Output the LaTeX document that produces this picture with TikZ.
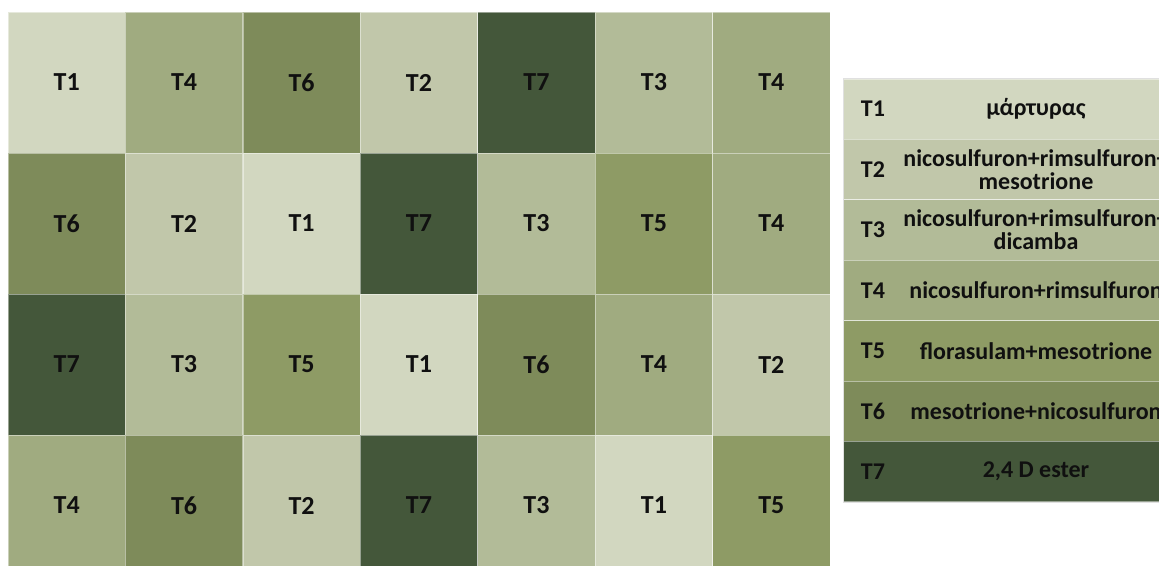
\documentclass[tikz,border=0pt]{standalone}
\usepackage{fontspec}
\setmainfont{Carlito}
\usepackage{xcolor}
\definecolor{tone}{HTML}{D2D7C0}
\definecolor{ttwo}{HTML}{C1C7AA}
\definecolor{tthree}{HTML}{B2BB98}
\definecolor{tfour}{HTML}{A0AB80}
\definecolor{tfive}{HTML}{8E9B65}
\definecolor{tsix}{HTML}{7E8B5A}
\definecolor{tseven}{HTML}{44573A}
\definecolor{ink}{HTML}{101010}

\begin{document}
\begin{tikzpicture}[x=1pt,y=-1pt,
    cell/.style={fill=#1, draw=white, draw opacity=0.45, line width=0.7pt,
      minimum width=117.4pt, minimum height=141pt, inner sep=0pt,
      text=ink, font=\bfseries\fontsize{26}{26}\selectfont},
    keyrow/.style={fill=#1, draw=white, draw opacity=0.45, line width=0.7pt,
      minimum width=360pt, minimum height=60.4pt, inner sep=0pt, anchor=west},
    keytag/.style={text=ink, font=\bfseries\fontsize{24}{24}\selectfont},
    keytext/.style={text=ink, align=center, inner sep=1pt, font=\bfseries\fontsize{24}{23}\selectfont}]
    \useasboundingbox (0,0) rectangle (1159,565);
    \clip (0,0) rectangle (1159,565);

    % field plots, row by row
    \node[cell=tone]   (p11) at (66.7,82.5)  {T1};
    \node[cell=tfour]  (p12) at (184.1,82.5) {T4};
    \node[cell=tsix]   (p13) at (301.6,82.5) {T6};
    \node[cell=ttwo]   (p14) at (419.0,82.5) {T2};
    \node[cell=tseven] (p15) at (536.4,82.5) {T7};
    \node[cell=tthree] (p16) at (653.9,82.5) {T3};
    \node[cell=tfour]  (p17) at (771.3,82.5) {T4};

    \node[cell=tsix]   (p21) at (66.7,223.5)  {T6};
    \node[cell=ttwo]   (p22) at (184.1,223.5) {T2};
    \node[cell=tone]   (p23) at (301.6,223.5) {T1};
    \node[cell=tseven] (p24) at (419.0,223.5) {T7};
    \node[cell=tthree] (p25) at (536.4,223.5) {T3};
    \node[cell=tfive]  (p26) at (653.9,223.5) {T5};
    \node[cell=tfour]  (p27) at (771.3,223.5) {T4};

    \node[cell=tseven] (p31) at (66.7,364.5)  {T7};
    \node[cell=tthree] (p32) at (184.1,364.5) {T3};
    \node[cell=tfive]  (p33) at (301.6,364.5) {T5};
    \node[cell=tone]   (p34) at (419.0,364.5) {T1};
    \node[cell=tsix]   (p35) at (536.4,364.5) {T6};
    \node[cell=tfour]  (p36) at (653.9,364.5) {T4};
    \node[cell=ttwo]   (p37) at (771.3,364.5) {T2};

    \node[cell=tfour]  (p41) at (66.7,505.5)  {T4};
    \node[cell=tsix]   (p42) at (184.1,505.5) {T6};
    \node[cell=ttwo]   (p43) at (301.6,505.5) {T2};
    \node[cell=tseven] (p44) at (419.0,505.5) {T7};
    \node[cell=tthree] (p45) at (536.4,505.5) {T3};
    \node[cell=tone]   (p46) at (653.9,505.5) {T1};
    \node[cell=tfive]  (p47) at (771.3,505.5) {T5};

    % legend
    \node[keyrow=tone]   (k1) at (843,109.2) {};
    \node[keyrow=ttwo]   (k2) at (843,169.6) {};
    \node[keyrow=tthree] (k3) at (843,230.0) {};
    \node[keyrow=tfour]  (k4) at (843,290.4) {};
    \node[keyrow=tfive]  (k5) at (843,350.8) {};
    \node[keyrow=tsix]   (k6) at (843,411.2) {};
    \node[keyrow=tseven] (k7) at (843,471.6) {};
    \draw[black!12, line width=0.7pt] (k1.north east) -- (k1.north west) -- (k7.south west) -- (k7.south east);

    \node[keytag] (t1) at (873,109.2) {T1};
    \node[keytag] (t2) at (873,169.6) {T2};
    \node[keytag] (t3) at (873,230.0) {T3};
    \node[keytag] (t4) at (873,290.4) {T4};
    \node[keytag] (t5) at (873,350.8) {T5};
    \node[keytag] (t6) at (873,411.2) {T6};
    \node[keytag] (t7) at (873,471.6) {T7};

    \node[keytext] (n1) at (1036,109.2) {μάρτυρας};
    \node[keytext] (n2) at (1036,169.6) {nicosulfuron+rimsulfuron+\\mesotrione};
    \node[keytext] (n3) at (1036,230.0) {nicosulfuron+rimsulfuron+\\dicamba};
    \node[keytext] (n4) at (1036,290.4) {nicosulfuron+rimsulfuron};
    \node[keytext] (n5) at (1036,350.8) {florasulam+mesotrione};
    \node[keytext] (n6) at (1036,411.2) {mesotrione+nicosulfuron};
    \node[keytext] (n7) at (1036,471.6) {2,4 D ester};
\end{tikzpicture}
\end{document}
